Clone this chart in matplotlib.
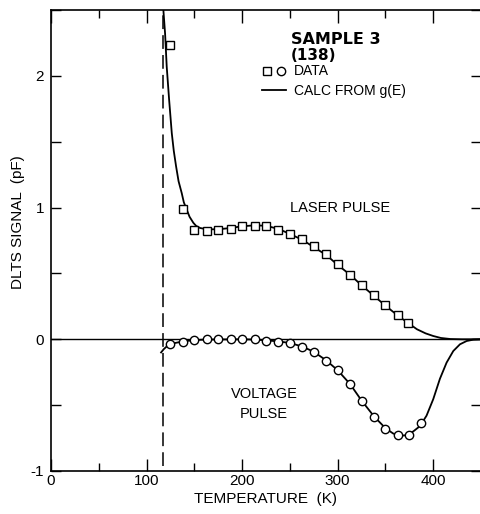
import matplotlib
matplotlib.use('Agg')
import matplotlib.pyplot as plt
from matplotlib.legend_handler import HandlerTuple
from matplotlib.ticker import MultipleLocator

plt.rcParams['font.family'] = ['Liberation Sans', 'DejaVu Sans']
plt.rcParams['font.size'] = 10
plt.rcParams['axes.unicode_minus'] = False

# measured DLTS peaks, sample 3 (138)
T_data = [125, 138, 150, 163, 175, 188, 200, 213, 225, 238, 250, 263,
          275, 288, 300, 313, 325, 338, 350, 363, 374]
laser_data = [2.235, 0.99, 0.833, 0.82, 0.826, 0.838, 0.859, 0.861, 0.861,
              0.831, 0.80, 0.758, 0.705, 0.644, 0.568, 0.49, 0.409, 0.333,
              0.258, 0.187, 0.124]
T_volt = [125, 138, 150, 163, 175, 188, 200, 213, 225, 238, 250, 263,
          275, 288, 300, 313, 325, 338, 350, 363, 375, 387]
volt_data = [-0.038, -0.018, -0.005, 0.0, 0.0, 0.0, 0.0, 0.0, -0.01, -0.018,
             -0.028, -0.056, -0.096, -0.164, -0.23, -0.336, -0.467, -0.588,
             -0.682, -0.727, -0.727, -0.639]

# curves calculated from g(E)
T_laser_calc = [117.6, 119.4, 121.1, 123.6, 126.4, 128.5, 130.9, 133.5,
                136.8, 139, 142, 145, 149, 152, 156, 163, 175, 188, 200, 213,
                225, 238, 250, 263, 275, 288, 300, 313, 325, 338, 350, 363,
                374, 383, 392, 400, 408, 418, 430, 450]
laser_calc = [2.5, 2.32, 2.07, 1.82, 1.565, 1.43, 1.313, 1.2, 1.11, 1.04,
              0.985, 0.93, 0.884, 0.86, 0.845, 0.835, 0.835, 0.845, 0.858,
              0.865, 0.862, 0.838, 0.80, 0.755, 0.70, 0.64, 0.565, 0.49,
              0.41, 0.33, 0.255, 0.18, 0.122, 0.076, 0.045, 0.025, 0.01,
              0.002, 0.0, 0.0]
T_volt_calc = [115.2, 118, 121, 124.6, 130, 138, 150, 163, 200, 213, 225, 238,
               250, 263, 275, 288, 300, 313, 325, 338, 350, 358, 365, 372,
               379, 386, 393, 400, 407, 414, 421, 428, 435, 442, 450]
volt_calc = [-0.10, -0.075, -0.055, -0.04, -0.028, -0.016, -0.006, -0.002,
             0.0, -0.002, -0.008, -0.016, -0.028, -0.055, -0.095, -0.16,
             -0.235, -0.34, -0.465, -0.585, -0.675, -0.715, -0.733, -0.728,
             -0.70, -0.66, -0.58, -0.455, -0.30, -0.177, -0.089, -0.038,
             -0.013, -0.003, 0.0]

T_cut = 117

fig = plt.figure(figsize=(4.81, 5.14), dpi=100)
ax = fig.add_axes([51/481, 43/514, 430/481, 461/514])

ax.axhline(0, color='k', lw=1.0)
ax.plot([T_cut, T_cut], [-0.96, 2.5], color='k', lw=1.1, dashes=(9, 4))

line, = ax.plot(T_laser_calc, laser_calc, color='k', lw=1.3)
ax.plot(T_volt_calc, volt_calc, color='k', lw=1.3)
sq, = ax.plot(T_data, laser_data, 's', ms=6, mfc='white', mec='k', mew=1.0,
              linestyle='none', zorder=3)
ci, = ax.plot(T_volt, volt_data, 'o', ms=6, mfc='white', mec='k', mew=1.0,
              linestyle='none', zorder=3)

ax.set_xlim(0, 450)
ax.set_ylim(-1, 2.5)
ax.xaxis.set_major_locator(MultipleLocator(100))
ax.xaxis.set_minor_locator(MultipleLocator(50))
ax.yaxis.set_major_locator(MultipleLocator(1))
ax.yaxis.set_minor_locator(MultipleLocator(0.5))
ax.tick_params(which='both', direction='in', top=True, right=True, width=1.0)
ax.tick_params(which='major', axis='x', length=9, pad=2, labelsize=11)
ax.tick_params(which='minor', axis='x', length=6)
ax.tick_params(which='both', axis='y', length=7, pad=5, labelsize=11)
ax.spines['right'].set_visible(False)
for s in ['left', 'bottom', 'top']:
    ax.spines[s].set_linewidth(1.2)

ax.set_xlabel('TEMPERATURE  (K)', fontsize=11, labelpad=3)
ax.set_ylabel('DLTS SIGNAL  (pF)', fontsize=11)
ax.yaxis.set_label_coords(-0.06, 0.54)

ax.text(0.558, 0.937, 'SAMPLE 3', transform=ax.transAxes, fontsize=11.5,
        fontweight='bold', va='center', ha='left', family='DejaVu Sans')
ax.text(0.558, 0.902, '(138)', transform=ax.transAxes, fontsize=11,
        fontweight='bold', va='center', ha='left', family='DejaVu Sans')
ax.text(303, 1.0, 'LASER PULSE', fontsize=10.5, ha='center', va='center')
ax.text(223, -0.49, 'VOLTAGE\nPULSE', fontsize=10.5, ha='center', va='center',
        linespacing=1.5)

ax.legend([(sq, ci), line], ['DATA', 'CALC FROM g(E)'],
          handler_map={tuple: HandlerTuple(ndivide=None, pad=0.2)},
          loc='upper left', bbox_to_anchor=(0.491, 0.882), frameon=False,
          borderpad=0, borderaxespad=0, handlelength=1.7, handletextpad=0.6,
          labelspacing=0.4, fontsize=10)

fig.savefig('out.png', dpi=100)
